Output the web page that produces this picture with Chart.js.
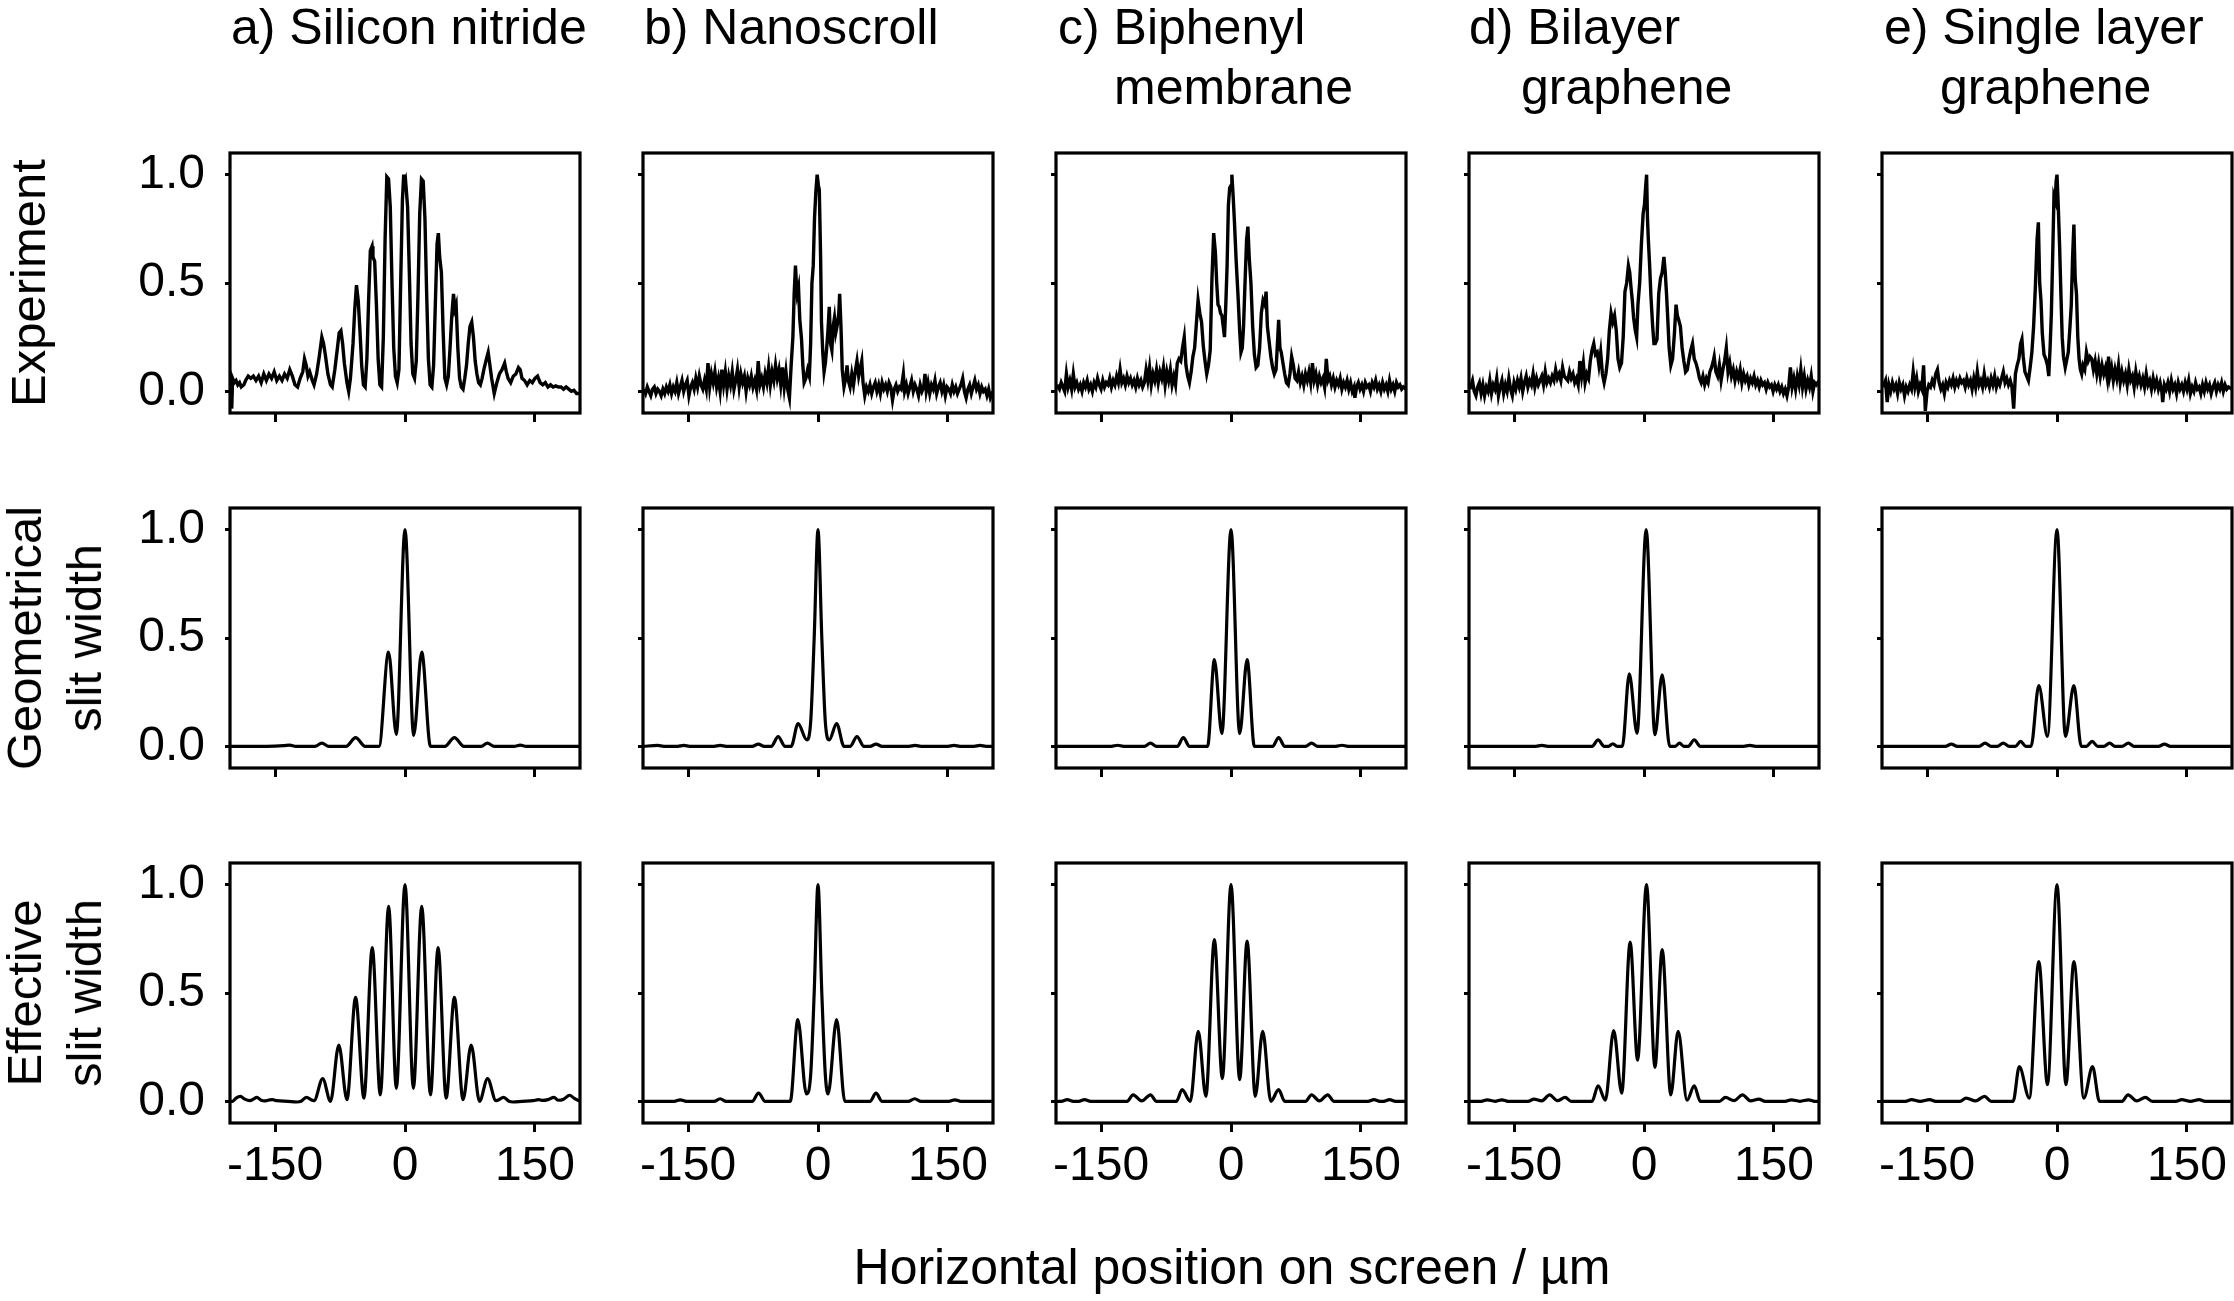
<!DOCTYPE html>
<html>
<head>
<meta charset="utf-8">
<script src="https://cdn.jsdelivr.net/npm/chart.js@4.4.0/dist/chart.umd.min.js"></script>
<style>
  body { margin: 0; background: #fff; }
  #fig { position: relative; width: 2234px; height: 1301px; overflow: hidden;
         font-family: "Liberation Sans", Arial, sans-serif; color: #000; }
  .panel { position: absolute; }
  .lbl { position: absolute; font-size: 50px; line-height: 60px; white-space: nowrap; }
  .ylab { position: absolute; font-size: 49px; line-height: 60px; white-space: nowrap;
          text-align: center; transform: translate(-50%, -50%) rotate(-90deg); }
</style>
</head>
<body>
<div id="fig"></div>
<script>
// ticks and labels
const xTicks = [-150, 0, 150];
const yTicks = [0, 0.5, 1.0];
const columnTitles = [['a) Silicon nitride'], ['b) Nanoscroll'], ['c) Biphenyl', 'membrane'],
                      ['d) Bilayer', 'graphene'], ['e) Single layer', 'graphene']];
const rowLabels = [['Experiment'], ['Geometrical', 'slit width'], ['Effective', 'slit width']];
const xTitle = 'Horizontal position on screen / µm';

// experiment, [position, intensity]
const expA = [[-200,-0.08],[-199,0.06],[-197,0.04],[-195,0.05],[-193,0.03],[-191,0.04],[-189,0.02],[-186,0.03],[-184,0.05],[-181,0.07],[-178,0.06],[-175,0.07],[-172,0.05],[-169,0.07],[-166,0.04],[-163,0.08],[-160,0.05],[-157,0.08],[-154,0.06],[-151,0.09],[-148,0.05],[-145,0.07],[-142,0.05],[-139,0.08],[-136,0.06],[-133,0.10],[-130,0.07],[-127,0.03],[-124,0.02],[-121,0.06],[-118,0.09],[-116,0.15],[-114,0.12],[-112,0.07],[-110,0.09],[-107,0.05],[-105,0.03],[-102,0.08],[-99,0.16],[-96,0.25],[-94,0.22],[-92,0.17],[-89,0.08],[-86,0.03],[-84,0.02],[-81,0.10],[-78,0.20],[-76,0.27],[-74,0.28],[-72,0.22],[-70,0.13],[-67,0.04],[-65,0.00],[-63,0.06],[-60,0.22],[-58,0.38],[-56,0.49],[-54,0.42],[-52,0.28],[-50,0.12],[-48,0.03],[-46,0.02],[-44,0.15],[-42,0.42],[-40,0.65],[-38,0.67],[-37,0.62],[-35,0.60],[-33,0.40],[-31,0.15],[-29,0.03],[-27,0.02],[-25,0.25],[-23,0.70],[-21,0.99],[-19,0.98],[-17,0.85],[-15,0.50],[-13,0.20],[-11,0.07],[-9,0.04],[-7,0.10],[-5,0.50],[-3,0.88],[-1.5,1.00],[-0.5,0.97],[0.5,0.98],[1.5,0.93],[3,0.85],[5,0.55],[7,0.22],[9,0.08],[11,0.06],[13,0.14],[15,0.45],[17,0.82],[19,0.98],[21,0.97],[23,0.80],[25,0.45],[27,0.15],[29,0.03],[31,0.02],[33,0.12],[35,0.40],[37,0.68],[38.5,0.73],[40,0.62],[42,0.55],[44,0.28],[46,0.06],[48,0.03],[50,0.07],[52,0.20],[54,0.35],[56,0.45],[57.5,0.38],[59,0.40],[61,0.20],[63,0.06],[65,0.02],[67,0.01],[69,0.06],[71,0.12],[73,0.22],[75,0.30],[77,0.32],[79,0.25],[81,0.14],[83,0.08],[85,0.04],[87,0.03],[89,0.06],[91,0.10],[94,0.15],[96,0.18],[98,0.12],[100,0.06],[103,-0.01],[106,0.04],[109,0.08],[112,0.10],[115,0.13],[117,0.09],[119,0.06],[122,0.04],[125,0.07],[128,0.08],[131,0.11],[133,0.10],[135,0.06],[138,0.05],[141,0.03],[144,0.05],[147,0.04],[150,0.06],[153,0.07],[156,0.04],[159,0.03],[162,0.04],[165,0.02],[168,0.03],[171,0.02],[174,0.025],[177,0.02],[180,0.02],[183,0.01],[186,0.02],[189,0.01],[192,0.00],[195,0.005],[198,-0.01],[202,-0.01]];

const expB = [[-201,0.01],[-199,-0.01],[-197,0.02],[-195,0.00],[-193,-0.02],[-191,0.01],[-189,0.02],[-187,-0.01],[-185,0.01],[-183,0.00],[-181,-0.02],[-179,0.01],[-177,-0.01],[-175,0.02],[-173,0.00],[-171,0.03],[-169,-0.01],[-167,0.02],[-165,0.00],[-163,0.04],[-161,-0.01],[-159,0.02],[-157,0.05],[-155,0.00],[-153,0.03],[-151,0.05],[-149,-0.02],[-147,0.02],[-145,0.04],[-143,0.01],[-141,0.06],[-139,0.02],[-137,0.07],[-135,0.03],[-133,0.01],[-131,0.05],[-129,0.01],[-127,0.13],[-125,0.02],[-123,0.08],[-121,0.04],[-119,0.09],[-117,0.02],[-115,0.06],[-113,0.00],[-111,0.10],[-109,0.03],[-107,0.09],[-105,0.01],[-103,0.07],[-101,0.03],[-99,0.09],[-97,0.01],[-95,0.05],[-93,0.10],[-91,0.02],[-89,0.08],[-87,0.04],[-85,0.07],[-83,0.00],[-81,0.06],[-79,0.03],[-77,0.07],[-75,0.02],[-73,0.05],[-71,0.01],[-69,0.14],[-67,0.03],[-65,0.06],[-63,0.02],[-61,0.08],[-59,0.04],[-57,0.11],[-55,0.03],[-53,0.09],[-51,0.05],[-49,0.12],[-47,0.06],[-45,0.10],[-43,0.03],[-41,0.11],[-39,0.02],[-37,0.09],[-35,0.01],[-33,-0.03],[-31,0.12],[-29,0.25],[-27.5,0.45],[-26,0.58],[-25,0.50],[-24,0.45],[-22.5,0.48],[-21,0.33],[-19,0.24],[-17.5,0.12],[-16,0.04],[-14,0.06],[-12,0.10],[-10,0.07],[-8.5,0.22],[-7,0.50],[-5.5,0.58],[-4,0.80],[-2.5,0.92],[-1,1.00],[0.5,0.95],[1.5,0.93],[3,0.62],[4,0.32],[5.5,0.18],[7,0.09],[8.5,0.13],[10,0.20],[11.5,0.28],[13,0.39],[14.5,0.22],[16,0.19],[17.5,0.30],[19,0.34],[20.5,0.27],[22,0.30],[24,0.36],[25,0.45],[26.5,0.30],[28,0.10],[30,0.02],[32,0.06],[33.5,0.12],[35,0.05],[37,0.02],[39,0.08],[41,0.03],[43,0.09],[45,0.14],[47,0.07],[49,0.11],[50.5,0.14],[52,0.04],[54,-0.02],[56,0.02],[58,0.00],[60,0.03],[62,-0.01],[64,0.02],[66,0.04],[68,0.00],[70,0.03],[72,-0.01],[74,0.04],[76,0.01],[78,0.03],[80,0.00],[82,0.04],[84,0.02],[86,-0.04],[88,0.01],[90,0.03],[92,0.00],[94,0.02],[96,0.01],[98.5,0.08],[100,0.00],[102,0.03],[104,-0.01],[106,0.02],[108,0.05],[110,0.00],[112,0.03],[114,0.01],[116,-0.02],[118,0.03],[120,0.00],[122,0.02],[123.5,0.08],[125,0.00],[127,0.04],[129,-0.01],[131,0.03],[133,0.01],[135,0.05],[137,-0.01],[139,0.02],[141,0.04],[143,0.00],[145,0.03],[147,-0.02],[149,0.02],[151,0.01],[153,-0.01],[155,0.03],[157,0.00],[159,0.02],[161,-0.01],[163,0.01],[165,0.03],[167,0.06],[169,0.00],[171,-0.03],[173,0.01],[175,0.03],[177,-0.01],[179,0.02],[181,0.05],[183,0.01],[185,0.03],[187,-0.01],[189,0.02],[191,0.00],[193,0.01],[195,-0.02],[197,0.01],[199,-0.03],[202,0.00]];

const expC = [[-201,0.03],[-198,0.01],[-196,0.04],[-194,0.02],[-192,0.00],[-190,0.08],[-188,0.02],[-186,0.05],[-184,0.01],[-182,0.08],[-180,0.02],[-178,0.04],[-176,0.01],[-174,0.03],[-172,0.00],[-170,0.04],[-168,0.02],[-166,0.05],[-164,0.01],[-162,0.03],[-160,0.00],[-158,0.04],[-156,0.02],[-154,0.06],[-152,0.03],[-150,0.01],[-148,0.05],[-146,0.02],[-144,0.04],[-142,0.03],[-140,0.06],[-138,0.02],[-136,0.05],[-134,0.03],[-132,0.07],[-130,0.04],[-128,0.10],[-126,0.04],[-124,0.06],[-122,0.03],[-120,0.07],[-118,0.04],[-116,0.06],[-114,0.03],[-112,0.05],[-110,0.02],[-108,0.06],[-106,0.03],[-104,0.05],[-102,0.02],[-100,0.04],[-98,0.10],[-96,0.05],[-94,0.11],[-92,0.03],[-90,0.08],[-88,0.05],[-86,0.10],[-84,0.04],[-82,0.09],[-80,0.06],[-78,0.11],[-76,0.03],[-74,0.09],[-72,0.05],[-70,0.10],[-68,0.03],[-66,0.07],[-64,0.03],[-62,0.13],[-60,0.15],[-58,0.14],[-56,0.20],[-54,0.25],[-52,0.12],[-50,0.07],[-48,0.04],[-46,0.09],[-44,0.16],[-42,0.20],[-40,0.31],[-38,0.42],[-36,0.36],[-34,0.32],[-32,0.21],[-30,0.14],[-28,0.08],[-26,0.12],[-24,0.19],[-22,0.52],[-20,0.73],[-18,0.64],[-16.5,0.50],[-15,0.40],[-13.5,0.39],[-12,0.36],[-10.5,0.35],[-9,0.30],[-7.5,0.25],[-6,0.40],[-4.5,0.58],[-3,0.86],[-1.5,0.94],[0,0.95],[1,1.00],[2.5,0.90],[4,0.78],[6,0.60],[8,0.45],[10,0.28],[11.5,0.18],[13,0.20],[14.5,0.30],[16,0.48],[18,0.70],[19.5,0.76],[21,0.62],[23,0.50],[25,0.30],[27,0.17],[29,0.11],[31,0.12],[33,0.20],[35,0.36],[37,0.42],[39,0.40],[40.5,0.46],[42,0.30],[44,0.23],[46,0.16],[48,0.11],[50,0.08],[52,0.10],[54,0.25],[55,0.33],[56.5,0.20],[58,0.18],[60,0.13],[62,0.08],[64,0.04],[66,0.03],[68,0.08],[70,0.16],[72,0.12],[74,0.06],[76,0.05],[78,0.09],[80,0.04],[82,0.07],[84,0.03],[86,0.08],[88,0.05],[90,0.09],[92,0.04],[94,0.13],[96,0.05],[98,0.08],[100,0.03],[102,0.07],[104,0.04],[106,0.06],[108,0.02],[110,0.15],[112,0.05],[114,0.07],[116,0.03],[118,0.06],[120,0.02],[122,0.05],[124,0.03],[126,0.06],[128,0.01],[130,0.04],[132,0.02],[134,0.05],[136,0.01],[138,0.04],[140,0.00],[142,0.02],[143,-0.03],[145,0.02],[147,0.04],[149,0.01],[151,0.03],[153,0.00],[155,0.04],[157,0.02],[159,0.03],[161,0.00],[163,0.04],[165,0.02],[167,0.05],[169,0.01],[171,0.03],[173,0.00],[175,0.04],[177,0.01],[179,0.03],[181,0.00],[183,0.05],[185,0.01],[187,0.03],[189,0.00],[191,0.04],[193,0.02],[195,0.03],[197,0.01],[199,0.02],[202,0.01]];

const expD = [[-201,0.01],[-198,0.05],[-196,0.00],[-194,-0.02],[-192,0.02],[-190,0.04],[-188,-0.01],[-186,0.03],[-184,-0.02],[-182,0.02],[-180,0.00],[-178,0.05],[-176,-0.01],[-174,0.03],[-172,0.01],[-170,0.06],[-168,-0.02],[-166,0.02],[-164,0.05],[-162,-0.01],[-160,0.03],[-158,0.00],[-156,0.06],[-154,0.01],[-152,-0.02],[-150,0.04],[-148,0.01],[-146,0.05],[-144,0.02],[-142,0.06],[-140,0.00],[-138,0.04],[-136,0.07],[-134,0.02],[-132,0.05],[-130,0.03],[-128,0.08],[-126,0.02],[-124,0.06],[-122,0.03],[-120,0.05],[-118,0.07],[-116,0.03],[-114,0.09],[-112,0.04],[-110,0.06],[-108,0.04],[-106,0.07],[-104,0.05],[-102,0.10],[-100,0.06],[-98,0.08],[-96,0.05],[-94,0.11],[-92,0.07],[-90,0.06],[-88,0.05],[-86,0.09],[-84,0.06],[-82,0.08],[-80,0.04],[-78,0.06],[-76,0.03],[-74,0.14],[-72,0.07],[-70,0.13],[-68,0.04],[-66,0.08],[-64,0.06],[-62,0.14],[-60,0.19],[-58,0.22],[-56,0.17],[-54,0.18],[-52,0.12],[-50,0.18],[-48,0.08],[-46,0.04],[-44,0.08],[-42,0.15],[-40,0.28],[-38,0.36],[-36,0.32],[-34,0.35],[-32,0.28],[-30,0.15],[-28,0.11],[-26,0.13],[-24,0.25],[-22,0.46],[-20,0.50],[-18,0.58],[-16.5,0.55],[-15,0.48],[-13.5,0.42],[-12,0.34],[-10,0.28],[-8.5,0.25],[-7,0.40],[-5,0.50],[-3,0.68],[-1,0.82],[0.5,0.86],[2,0.95],[3,1.00],[4,0.80],[5,0.70],[6.5,0.58],[8,0.44],[10,0.30],[11.5,0.22],[13,0.22],[15,0.24],[17,0.45],[19,0.52],[21,0.55],[23,0.62],[24.5,0.55],[26,0.45],[27.5,0.33],[29,0.20],[31,0.12],[33,0.15],[35,0.26],[37,0.40],[38.5,0.35],[40,0.33],[42,0.30],[44,0.20],[46,0.14],[48,0.09],[50,0.10],[52,0.15],[54,0.19],[56,0.22],[58,0.15],[60,0.13],[62,0.10],[64,0.06],[66,0.04],[68,0.07],[70,0.03],[72,0.06],[74,0.04],[76,0.09],[78,0.11],[80,0.14],[81,0.16],[83,0.09],[85,0.07],[87,0.12],[89,0.05],[91,0.10],[93,0.14],[95,0.20],[97,0.09],[99,0.13],[101,0.07],[103,0.10],[105,0.05],[107,0.09],[109,0.06],[111,0.10],[113,0.04],[115,0.08],[117,0.05],[119,0.07],[121,0.03],[123,0.06],[125,0.04],[127,0.07],[129,0.03],[131,0.05],[133,0.02],[135,0.05],[137,0.03],[139,0.04],[141,0.01],[143,0.04],[145,0.02],[147,0.03],[149,0.00],[151,0.03],[153,0.01],[155,0.03],[157,0.00],[159,0.02],[161,-0.01],[163,0.01],[165,-0.02],[167,0.02],[169,0.11],[171,0.02],[173,0.06],[175,0.01],[177,0.07],[179,0.03],[181,0.10],[183,0.02],[185,0.07],[187,0.01],[189,0.05],[191,0.02],[193,0.07],[195,0.00],[197,0.04],[199,0.03],[202,0.05]];

const expE = [[-201,0.02],[-198,0.05],[-196,-0.05],[-194,0.03],[-192,0.00],[-190,0.04],[-188,0.01],[-186,0.03],[-184,-0.01],[-182,0.04],[-180,0.01],[-178,0.03],[-176,-0.02],[-174,0.02],[-172,0.00],[-170,0.03],[-168,0.01],[-166,0.09],[-164,0.02],[-162,0.06],[-160,0.00],[-158,0.03],[-156,0.01],[-154,0.12],[-152,-0.09],[-150,0.00],[-148,0.03],[-146,0.02],[-144,0.05],[-142,0.03],[-140,0.08],[-138,0.10],[-136,0.04],[-134,0.01],[-132,0.03],[-130,-0.01],[-128,0.04],[-126,0.02],[-124,0.05],[-122,0.03],[-120,0.06],[-118,0.02],[-116,0.05],[-114,0.03],[-112,0.06],[-110,0.04],[-108,0.05],[-106,0.02],[-104,0.06],[-102,0.03],[-100,0.05],[-98,0.01],[-96,0.06],[-94,0.02],[-92,0.09],[-90,0.03],[-88,0.05],[-86,0.02],[-84,0.08],[-82,0.03],[-80,0.05],[-78,0.02],[-76,0.06],[-74,0.03],[-72,0.07],[-70,0.02],[-68,0.05],[-66,0.03],[-64,0.06],[-62,0.09],[-60,0.04],[-58,0.06],[-56,0.03],[-54,0.05],[-52,0.02],[-50,-0.08],[-48,0.08],[-46,0.12],[-44,0.15],[-42,0.22],[-40.5,0.24],[-39,0.16],[-37,0.09],[-35,0.07],[-33,0.05],[-31,0.11],[-29,0.18],[-27,0.30],[-25,0.48],[-23,0.70],[-21.5,0.78],[-20,0.50],[-18.5,0.42],[-17,0.27],[-15,0.17],[-13,0.15],[-11,0.12],[-9.5,0.07],[-8,0.20],[-6.5,0.36],[-5,0.62],[-3.5,0.90],[-2,0.88],[-1,0.97],[0,1.00],[1.5,0.85],[3,0.67],[4.5,0.45],[6,0.25],[7.5,0.16],[9.5,0.11],[11,0.14],[13,0.18],[15,0.30],[16.5,0.40],[18,0.62],[19.5,0.77],[21,0.52],[22.5,0.45],[24,0.25],[25.5,0.15],[27,0.10],[28.5,0.08],[30,0.12],[32,0.10],[34,0.18],[36,0.14],[38,0.16],[40,0.15],[42,0.10],[44,0.14],[46,0.08],[48,0.13],[50,0.07],[52,0.12],[54,0.08],[56,0.11],[58,0.06],[59.5,0.16],[61,0.07],[63,0.11],[65,0.05],[67,0.10],[69,0.06],[71,0.12],[73,0.04],[75,0.09],[77,0.05],[79,0.08],[81,0.03],[83,0.10],[85,0.05],[87,0.07],[89,0.02],[91,0.09],[93,0.04],[95,0.07],[97,0.03],[99,0.06],[101,0.02],[103,0.08],[105,0.03],[107,0.05],[109,0.01],[111,0.06],[113,0.02],[115,0.05],[117,0.01],[119,0.04],[121,0.00],[122,-0.05],[124,0.03],[126,0.01],[128,0.04],[130,0.00],[132,0.05],[134,0.01],[136,0.03],[138,-0.01],[140,0.04],[142,0.01],[144,0.03],[146,0.00],[148,0.04],[150,0.01],[152,0.05],[154,-0.01],[156,0.02],[158,0.00],[160,0.04],[162,0.01],[164,0.02],[166,-0.01],[168,0.03],[170,0.00],[172,0.04],[174,0.01],[176,0.03],[178,-0.01],[180,0.02],[182,0.04],[184,0.00],[186,0.03],[188,0.01],[190,0.04],[192,0.00],[194,0.03],[196,0.01],[198,0.02],[202,0.01]];

// geometrical slit width
const geoA = [[-202,0],[-160,0],[-140,0.003],[-133,0.006],[-126,0],[-104,0],[-96,0.015],[-88,0],[-68,0],[-57,0.04],[-46,0],[-30,0],[-19,0.435],[-10,0.055],[0,1.0],[10,0.05],[19.3,0.435],[29.4,0],[46,0],[57,0.04],[68,0],[88,0],[95,0.015],[103,0],[126,0],[133,0.006],[140,0],[202,0]];
const geoB = [[-202,0],[-185,0.004],[-178,0],[-162,0],[-155,0.004],[-148,0],[-120,0],[-113,0.004],[-106,0],[-76,0],[-69,0.01],[-62,0],[-54,0],[-46,0.045],[-38,0],[-31,0],[-23,0.105],[-13,0.03],[-8.5,0.11],[-4.4,0.5],[0,1.0],[4.4,0.5],[8.5,0.11],[13,0.03],[21.5,0.105],[30,0],[37,0],[45,0.045],[53,0],[60,0],[67,0.01],[74,0],[105,0],[112,0.004],[119,0],[150,0],[157,0.004],[164,0],[180,0],[187,0.004],[194,0],[202,0]];
const geoC = [[-202,0],[-138,0],[-131,0.005],[-124,0],[-100,0],[-93,0.015],[-86,0],[-62,0],[-55,0.04],[-48,0],[-27,0],[-19.2,0.4],[-10.5,0.058],[0,1.0],[10,0.058],[18.6,0.4],[27,0],[48,0],[55,0.04],[62,0],[86,0],[93,0.015],[100,0],[121,0],[128,0.005],[135,0],[202,0]];
const geoD = [[-202,0],[-125,0],[-118,0.004],[-111,0],[-60,0],[-53,0.03],[-46,0],[-41,0],[-36,0.012],[-31,0],[-25,0],[-17,0.335],[-8,0.06],[2.5,1.0],[12.6,0.054],[21,0.33],[29.7,0],[36,0],[41,0.015],[46,0],[51,0],[58,0.03],[65,0],[115,0],[122,0.004],[129,0],[202,0]];
const geoE = [[-202,0],[-129,0],[-122,0.01],[-115,0],[-90,0],[-83,0.015],[-76,0],[-69,0],[-62,0.015],[-55,0],[-48,0],[-42,0.023],[-36,0],[-30,0],[-21,0.28],[-11,0.046],[0,1.0],[9.7,0.046],[19.5,0.28],[28,0],[34,0],[40.6,0.023],[47,0],[54,0],[60.7,0.015],[67,0],[75,0],[82.4,0.015],[89,0],[117,0],[124,0.01],[131,0],[202,0]];

// effective slit width
const effA = [[-202,0],[-199,0],[-195,0.015],[-190,0.023],[-185,0.01],[-179,0.003],[-175,0.01],[-171,0.018],[-166,0.005],[-162,0.002],[-157,0.006],[-153,0.008],[-148,0.003],[-135,0],[-125,-0.003],[-120,0],[-114,0.018],[-105,0.003],[-95,0.105],[-86,0],[-76.4,0.26],[-67,0.008],[-57,0.48],[-47.4,0.015],[-37.8,0.71],[-28.5,0.03],[-18.9,0.9],[-10,0.06],[0,1.0],[9.7,0.06],[19.3,0.9],[29.4,0.03],[38.2,0.71],[47.5,0.015],[57,0.48],[67,0.008],[76.4,0.26],[86,0],[95.3,0.105],[105,0.003],[114,0.018],[120,0],[125,-0.003],[135,0],[148,0.003],[154,0.008],[159,0.004],[165,0.008],[172,0.018],[177,0.005],[183,0.01],[190,0.028],[195,0.015],[202,0]];
const effB = [[-202,0],[-166,0],[-159,0.007],[-152,0],[-120,0],[-113,0.012],[-106,0],[-76,0],[-68.6,0.038],[-61,0],[-32,0],[-23.3,0.377],[-13.4,0.034],[-8.5,0.12],[-4.4,0.5],[0,1.0],[4.4,0.5],[8.5,0.12],[11.6,0.034],[21.5,0.377],[31,0],[60,0],[67,0.038],[74,0],[104,0],[111.6,0.012],[119,0],[151,0],[158,0.007],[165,0],[202,0]];
const effC = [[-202,0],[-196,0],[-189,0.008],[-182,0],[-176,0],[-169,0.008],[-162,0],[-120,0],[-113,0.03],[-103,0.002],[-93,0.03],[-86,0],[-63,0],[-56.4,0.054],[-47,0],[-37.8,0.323],[-29,0.023],[-19.2,0.746],[-10,0.105],[0,1.0],[10,0.1],[18.6,0.74],[28,0.023],[36.6,0.323],[46,0],[55,0.054],[62,0],[86,0],[93,0.03],[102,0.002],[111.6,0.03],[119,0],[158,0],[165,0.008],[172,0],[176,0],[183,0.008],[190,0],[202,0]];
const effD = [[-202,0],[-188,0],[-181,0.007],[-172,0],[-164,0.007],[-157,0],[-134,0],[-127,0.01],[-118,0.002],[-109,0.03],[-100,0.003],[-91,0.018],[-84,0],[-60,0],[-53,0.072],[-44.6,0.005],[-35,0.327],[-25.7,0.038],[-16,0.735],[-7.4,0.19],[2.9,1.0],[12.6,0.157],[21,0.7],[30.9,0.03],[39.4,0.323],[49.7,0.005],[58,0.072],[65,0],[87,0],[94,0.018],[104,0.003],[113.7,0.03],[123,0.002],[132.6,0.01],[140,0],[163,0],[170,0.007],[180,0],[190,0.007],[197,0],[202,0]];
const effE = [[-202,0],[-175,0],[-168,0.008],[-158,0],[-147,0.008],[-140,0],[-112,0],[-105,0.015],[-94,0.002],[-83.6,0.023],[-76,0],[-50.7,0],[-43.5,0.16],[-32,0.015],[-21,0.645],[-11,0.077],[0,1.0],[10.3,0.077],[19.5,0.645],[31,0.015],[41,0.16],[49,0],[75,0],[82,0.03],[92,0.002],[102,0.018],[110,0],[137,0],[144,0.008],[154,0],[164,0.008],[171,0],[202,0]];

const rows = [[expA, expB, expC, expD, expE], [geoA, geoB, geoC, geoD, geoE], [effA, effB, effC, effD, effE]];

// layout (pixels)
const COL_X = [230, 643, 1056, 1469, 1882];
const ROW_Y = [153, 508, 863];
const PW = 350, PH = 260;
const FONT = '"Liberation Sans", Arial, sans-serif';

const fig = document.getElementById('fig');

const frame = {
  id: 'frame',
  afterDatasetsDraw(chart) {
    const { ctx, chartArea: a } = chart;
    ctx.save();
    ctx.strokeStyle = '#000';
    ctx.lineWidth = 3.2;
    ctx.strokeRect(a.left, a.top, a.right - a.left, a.bottom - a.top);
    ctx.restore();
  }
};

function makePanel(row, col, pts) {
  const padL = col === 0 ? 150 : 30, padT = 30, padR = 10, padB = row === 2 ? 75 : 15;
  const box = document.createElement('div');
  box.className = 'panel';
  box.style.left = (COL_X[col] - padL) + 'px';
  box.style.top = (ROW_Y[row] - padT) + 'px';
  box.style.width = (padL + PW + padR) + 'px';
  box.style.height = (padT + PH + padB) + 'px';
  const cv = document.createElement('canvas');
  box.appendChild(cv);
  fig.appendChild(box);

  new Chart(cv, {
    type: 'line',
    data: {
      datasets: [{
        data: pts.map(p => ({ x: p[0], y: p[1] })),
        borderColor: '#000',
        borderWidth: row === 0 ? 3.4 : 3.2,
        pointRadius: 0,
        fill: false,
        tension: 0,
        cubicInterpolationMode: row === 0 ? 'default' : 'monotone'
      }]
    },
    options: {
      responsive: true,
      maintainAspectRatio: false,
      animation: false,
      events: [],
      layout: { padding: { top: padT, right: padR, left: 0, bottom: 0 } },
      plugins: { legend: { display: false }, tooltip: { enabled: false } },
      scales: {
        x: {
          type: 'linear', min: -202, max: 202,
          afterBuildTicks: s => { s.ticks = xTicks.map(v => ({ value: v })); },
          afterFit: s => { s.height = padB; s.paddingLeft = 0; s.paddingRight = 0; },
          grid: { display: true, drawOnChartArea: false, drawTicks: true, tickLength: 9, color: '#000', lineWidth: 3 },
          border: { display: false },
          ticks: { display: row === 2, color: '#000', padding: 6, maxRotation: 0,
                   font: { family: FONT, size: 48 }, callback: v => String(v) }
        },
        y: {
          min: -0.1, max: 1.1,
          afterBuildTicks: s => { s.ticks = yTicks.map(v => ({ value: v })); },
          afterFit: s => { s.width = padL; s.paddingTop = 0; s.paddingBottom = 0; },
          grid: { display: true, drawOnChartArea: false, drawTicks: true, tickLength: 5, color: '#000', lineWidth: 3 },
          border: { display: false },
          ticks: { display: col === 0, color: '#000', padding: 20,
                   font: { family: FONT, size: 48 }, callback: v => Number(v).toFixed(1) }
        }
      }
    },
    plugins: [frame]
  });
}

rows.forEach((series, r) => series.forEach((pts, c) => makePanel(r, c, pts)));

// column titles
const titleLeft = [[231], [644], [1058, 1114], [1469, 1521], [1884, 1940]];
columnTitles.forEach((lines, c) => {
  lines.forEach((txt, i) => {
    const d = document.createElement('div');
    d.className = 'lbl';
    d.textContent = txt;
    d.style.left = titleLeft[c][i] + 'px';
    d.style.top = (-3 + 60 * i) + 'px';
    fig.appendChild(d);
  });
});

// row labels, rotated
const rowLabelX = [28, 54, 54];
rowLabels.forEach((lines, r) => {
  const d = document.createElement('div');
  d.className = 'ylab';
  d.innerHTML = lines.join('<br>');
  d.style.left = rowLabelX[r] + 'px';
  d.style.top = (ROW_Y[r] + PH / 2) + 'px';
  fig.appendChild(d);
});

// x axis title
const xt = document.createElement('div');
xt.className = 'lbl';
xt.textContent = xTitle;
xt.style.left = '1232px';
xt.style.top = '1237px';
xt.style.transform = 'translateX(-50%)';
fig.appendChild(xt);
</script>
</body>
</html>
